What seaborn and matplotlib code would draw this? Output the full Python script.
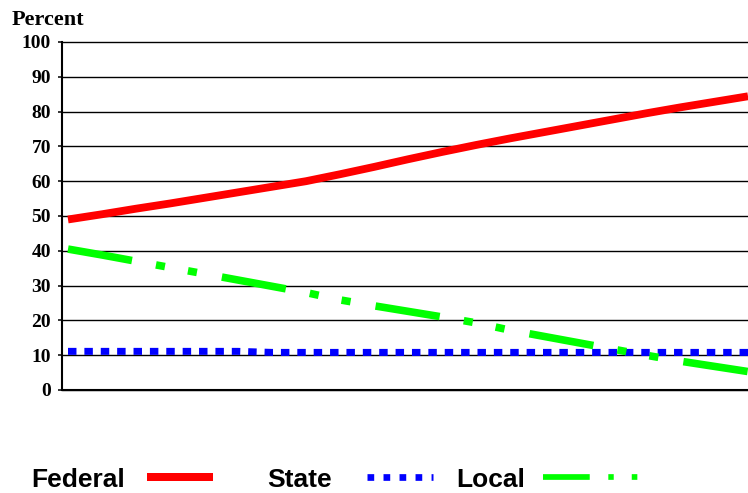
import matplotlib
matplotlib.use('Agg')
import matplotlib.pyplot as plt
from matplotlib.lines import Line2D
import seaborn as sns
import pandas as pd

# ---- data ----
periods = list(range(21))
federal = [49.0, 50.5, 52.1, 53.6, 55.2, 56.8, 58.4, 60.0, 62.0, 64.1, 66.3,
           68.4, 70.4, 72.3, 74.1, 75.9, 77.7, 79.5, 81.2, 82.8, 84.4]
state = [11.1, 11.1, 11.1, 11.1, 11.1, 11.1, 10.8, 10.8, 10.8, 10.8, 10.8,
         10.8, 10.8, 10.8, 10.8, 10.8, 10.8, 10.8, 10.8, 10.8, 10.8]
local = [40.5, 38.8, 37.0, 35.2, 33.4, 31.6, 29.8, 28.0, 25.9, 24.2, 22.6,
         21.0, 19.3, 17.2, 15.4, 13.6, 11.8, 10.0, 8.3, 6.8, 5.3]
series_names = ['Federal', 'State', 'Local']
y_ticks = [0, 10, 20, 30, 40, 50, 60, 70, 80, 90, 100]
y_label = 'Percent'

sns.set_style('white')
plt.rcParams['font.family'] = ['Liberation Serif', 'DejaVu Serif']
plt.rcParams['font.weight'] = 'bold'

df = pd.DataFrame({
    'period': periods * 3,
    'value': federal + state + local,
    'series': [n for n in series_names for _ in periods],
})

W, H = 748, 493
fig = plt.figure(figsize=(W / 100, H / 100), dpi=100)
ax = fig.add_axes([62 / W, 1 - 390 / H, 686 / W, 348 / H])

PX = 72 / 100  # points per pixel
styles = {
    'Federal': dict(color='#ff0000', lw=7.8 * PX, ls='-'),
    'State': dict(color='#0000ff', lw=7.0 * PX, ls=(0, (1.21, 1.13))),
    'Local': dict(color='#00ff00', lw=7.6 * PX,
                  ls=(0, (8.55, 3.21, 1.2, 3.08, 1.2, 3.34))),
}
for name in series_names:
    sub = df[df['series'] == name]
    sns.lineplot(data=sub, x='period', y='value', ax=ax,
                 color=styles[name]['color'], linewidth=styles[name]['lw'],
                 legend=False)
    ln = ax.lines[-1]
    ln.set_linestyle(styles[name]['ls'])
    ln.set_dash_capstyle('butt')
    ln.set_solid_capstyle('butt')
    ln.set_zorder(3)

ax.set_xlim(-6 / 34, 20)
ax.set_ylim(0, 100)
ax.set_xticks([])
ax.set_yticks(y_ticks)
ax.set_xlabel('')
ax.set_ylabel('')

ax.yaxis.grid(True, color='black', linewidth=1.0)
ax.xaxis.grid(False)
ax.set_axisbelow(True)
for gl in ax.get_ygridlines():
    gl.set_clip_on(False)

for s in ['top', 'right']:
    ax.spines[s].set_visible(False)
for s in ['left', 'bottom']:
    ax.spines[s].set_color('black')
    ax.spines[s].set_linewidth(1.5)

ax.tick_params(axis='y', left=True, length=3, width=1.1, pad=5,
               labelsize=14, colors='black', direction='out')
for lbl in ax.get_yticklabels():
    lbl.set_fontfamily('Liberation Serif')
    lbl.set_fontweight('bold')

fig.text(12 / W, 1 - 25 / H, y_label, fontsize=16, fontweight='bold',
         family='Liberation Serif', ha='left', va='baseline', color='black')

# ---- legend (text first, then sample line) ----
fs = 19
leg_font = dict(family='Liberation Sans', weight='bold', size=fs)
handles = {
    'Federal': Line2D([], [], color='#ff0000', lw=8 * PX, solid_capstyle='butt'),
    'State': Line2D([], [], color='#0000ff', lw=6.7 * PX,
                    linestyle=(0, (1.0, 1.39)), dash_capstyle='butt'),
    'Local': Line2D([], [], color='#00ff00', lw=5.7 * PX,
                    linestyle=(0, (8.2, 3.26, 0.95, 3.16, 0.98, 3.3)),
                    dash_capstyle='butt'),
}
legend_x = [30.8, 267.3, 456.4]
handle_len = [2.52, 2.5, 3.62]
text_pad = [0.85, 1.33, 0.66]
for name, x, hl, tp in zip(series_names, legend_x, handle_len, text_pad):
    fig.legend(handles=[handles[name]], labels=[name], loc='lower left',
               bbox_to_anchor=(x / W, 0.003), prop=leg_font,
               markerfirst=False, frameon=False, handlelength=hl,
               handletextpad=tp, borderpad=0, borderaxespad=0, numpoints=1,
               labelcolor='black')

fig.savefig('out.png', dpi=100)
